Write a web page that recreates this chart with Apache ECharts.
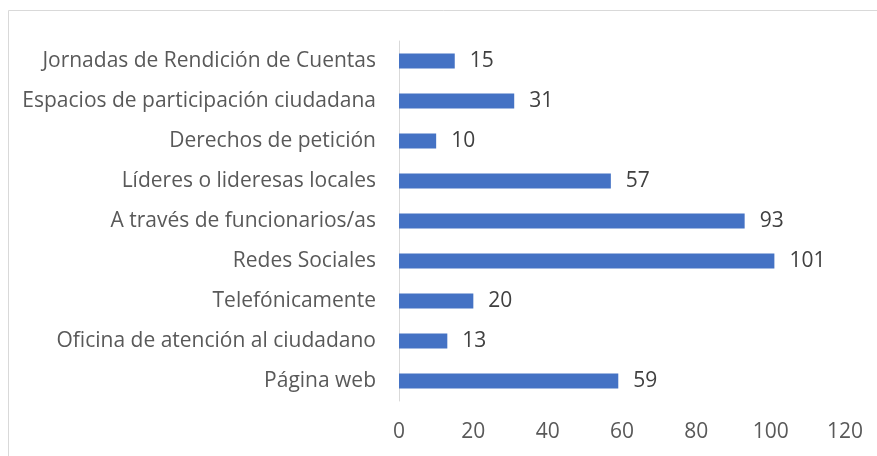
<!DOCTYPE html>
<html>
<head>
<meta charset="utf-8">
<script src="https://cdn.jsdelivr.net/npm/echarts@6/dist/echarts.min.js"></script>
<style>
  html, body { margin: 0; padding: 0; background: #fff; }
  #chart { width: 877px; height: 456px; }
</style>
</head>
<body>
<div id="chart"></div>
<script>
// categories from bottom to top (ECharts draws the first category at the bottom)
var categories = [
  'Página web',
  'Oficina de atención al ciudadano',
  'Telefónicamente',
  'Redes Sociales',
  'A través de funcionarios/as',
  'Líderes o lideresas locales',
  'Derechos de petición',
  'Espacios de participación ciudadana',
  'Jornadas de Rendición de Cuentas'
];
var values = [59, 13, 20, 101, 93, 57, 10, 31, 15];
var tickMin = 0, tickMax = 120, tickStep = 20;

var textColor = '#595959';
var fontName = 'Open Sans';

var myChart = echarts.init(document.getElementById('chart'));
var option = {
  animation: false,
  graphic: [{
    type: 'rect',
    shape: { x: 8.5, y: 10.5, width: 900, height: 500 },
    style: { fill: 'none', stroke: '#d9d9d9', lineWidth: 1 },
    silent: true
  }],
  grid: {
    left: 399,
    right: 32,
    top: 41,
    bottom: 55
  },
  xAxis: {
    type: 'value',
    min: tickMin,
    max: tickMax,
    interval: tickStep,
    axisLine: { show: false },
    axisTick: { show: false },
    splitLine: { show: false },
    axisLabel: {
      color: textColor,
      fontFamily: fontName,
      fontSize: 21,
      margin: 21
    }
  },
  yAxis: {
    type: 'category',
    data: categories,
    axisLine: { show: true, lineStyle: { color: '#d9d9d9', width: 1 } },
    axisTick: { show: false },
    axisLabel: {
      color: textColor,
      fontFamily: fontName,
      fontSize: 21,
      margin: 23
    }
  },
  series: [{
    type: 'bar',
    data: values,
    barWidth: 15,
    itemStyle: { color: '#4472c4' },
    label: {
      show: true,
      position: 'right',
      distance: 15,
      color: '#404040',
      fontFamily: fontName,
      fontSize: 21
    }
  }]
};
myChart.setOption(option);
</script>
</body>
</html>
